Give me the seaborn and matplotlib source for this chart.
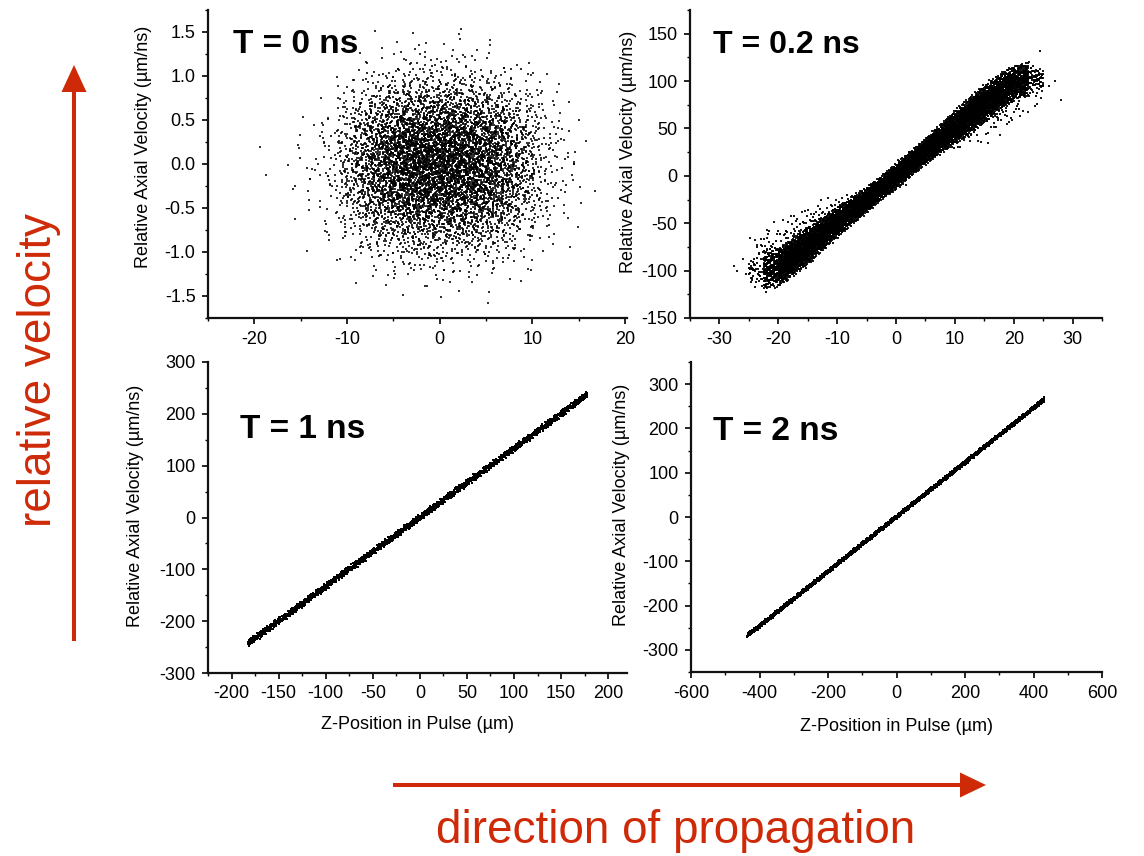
import numpy as np
import pandas as pd
import matplotlib
matplotlib.use("Agg")
import matplotlib.pyplot as plt
from matplotlib.ticker import MultipleLocator
from matplotlib.patches import Polygon
import seaborn as sns

# ---------------- data ----------------
# T = 0 ns : density grid of particles (counts per cell), rows top (y=1.5) -> bottom (y=-1.5)
t0_x_edges = [-20, -17.5, -15, -12.5, -10, -7.5, -5, -2.5, 0, 2.5, 5, 7.5, 10, 12.5, 15, 17.5]
t0_y_edges = [1.5, 1.25, 1.0, 0.75, 0.5, 0.25, 0.0, -0.25, -0.5, -0.75, -1.0, -1.25, -1.5]
t0_counts = [
    [0, 0, 0, 0, 0, 1, 2, 3, 3, 2, 1, 0, 0, 0, 0],
    [0, 0, 0, 0, 3, 6, 10, 14, 12, 9, 6, 3, 1, 0, 0],
    [0, 0, 0, 2, 12, 26, 40, 44, 44, 38, 26, 12, 4, 1, 0],
    [0, 0, 1, 7, 36, 75, 110, 120, 118, 100, 72, 36, 10, 2, 0],
    [0, 1, 3, 14, 66, 140, 200, 220, 215, 190, 135, 66, 18, 4, 1],
    [1, 1, 4, 18, 82, 170, 250, 270, 265, 235, 165, 82, 22, 5, 1],
    [1, 1, 4, 18, 84, 170, 248, 270, 268, 238, 168, 84, 22, 5, 1],
    [0, 1, 3, 14, 64, 138, 200, 215, 212, 192, 138, 68, 18, 4, 1],
    [0, 1, 2, 7, 36, 75, 110, 120, 118, 104, 75, 38, 10, 2, 0],
    [0, 0, 1, 3, 15, 30, 46, 52, 50, 44, 32, 15, 4, 1, 0],
    [0, 0, 0, 1, 4, 8, 13, 15, 14, 12, 8, 4, 1, 0, 0],
    [0, 0, 0, 0, 1, 1, 2, 3, 3, 2, 1, 1, 0, 0, 0],
]

# T = 0.2 ns : dense band (lower / upper edge at each x) and sparse halo
t02_x = [-25, -22.5, -20, -17.5, -15, -12.5, -10, -7.5, -5, -2.5, 0,
         2.5, 5, 7.5, 10, 12.5, 15, 17.5, 20, 22.5, 25]
t02_core_lo = [-108, -112, -108, -97, -85, -71, -58, -45, -33, -20, -8,
               5, 18, 30, 41, 53, 65, 77, 87, 94, 95]
t02_core_hi = [-92, -88, -86, -75, -63, -52, -40, -29, -18, -6, 7,
               20, 33, 47, 61, 74, 87, 98, 108, 112, 108]
t02_core_n = [45, 330, 600, 630, 630, 600, 600, 570, 570, 570,
              570, 570, 570, 600, 600, 630, 630, 600, 450, 90]
t02_halo_lo = [-112, -88, -86, -75, -63, -52, -41, -30, -22, -10, -10,
               2, 14, 25, 30, 36, 42, 50, 60, 75, 80]
t02_halo_hi = [-72, -62, -58, -48, -40, -32, -26, -18, -17, -5, 10,
               22, 34, 48, 42, 54, 66, 78, 88, 100, 104]
t02_halo_n = [15, 25, 30, 30, 25, 15, 8, 3, 3, 3,
              3, 3, 4, 4, 10, 15, 20, 20, 20, 12]
t02_out_x = [-27.5, -27, -26, -25.5, 24, 25, 26, 27, 28, 24.5, 23]
t02_out_y = [-95, -100, -88, -104, 100, 98, 95, 100, 80, 132, 104]

# T = 1 ns : thin straight band
t1_x = [-183, -150, -100, -50, 0, 50, 100, 150, 178]
t1_lo = [-247, -204, -137, -70, -4, 63, 129, 196, 234]
t1_hi = [-239, -196, -129, -62, 4, 71, 137, 204, 242]
t1_n = [180, 260, 260, 260, 260, 260, 260, 180]

# T = 2 ns : thin straight band
t2_x = [-437, -400, -300, -200, -100, 0, 100, 200, 300, 400, 432]
t2_lo = [-271, -249, -188, -126, -64, -3, 59, 120, 182, 243, 263]
t2_hi = [-265, -243, -182, -120, -58, 3, 65, 126, 188, 249, 269]
t2_n = [80, 240, 240, 240, 240, 240, 240, 240, 240, 80]

titles = ["T = 0 ns", "T = 0.2 ns", "T = 1 ns", "T = 2 ns"]
xlabel = "Z-Position in Pulse (\u00b5m)"
ylabel = "Relative Axial Velocity (\u00b5m/ns)"

# ---------------- helpers: deterministic (Halton) placement inside read cells ----------------
_counter = [1]


def _halton(idx, base):
    idx = idx.copy()
    f = np.ones(len(idx))
    r = np.zeros(len(idx))
    while np.any(idx > 0):
        f = f / base
        r = r + f * (idx % base)
        idx = idx // base
    return r


def _seq(n):
    k = np.arange(_counter[0], _counter[0] + n)
    _counter[0] += n
    return _halton(k, 2), _halton(k, 3), _halton(k, 5), _halton(k, 7)


def fill_grid(xe, ye, counts):
    """points spread over each cell with a tent profile reaching into the neighbours"""
    xs, ys = [], []
    for r, row in enumerate(counts):
        for c, n in enumerate(row):
            if n <= 0:
                continue
            a, b, p, q = _seq(n)
            u = a + p - 0.5
            v = b + q - 0.5
            xs.append(xe[c] + u * (xe[c + 1] - xe[c]))
            ys.append(ye[r] + v * (ye[r + 1] - ye[r]))
    return np.concatenate(xs), np.concatenate(ys)


def fill_band(xe, lo, hi, counts):
    xs, ys = [], []
    for i, n in enumerate(counts):
        if n <= 0:
            continue
        a, b, p, q = _seq(n)
        u = a
        v = b + p - 0.5
        x = xe[i] + u * (xe[i + 1] - xe[i])
        l = lo[i] + u * (lo[i + 1] - lo[i])
        h = hi[i] + u * (hi[i + 1] - hi[i])
        xs.append(x)
        ys.append(l + v * (h - l))
    return np.concatenate(xs), np.concatenate(ys)


x0, y0 = fill_grid(t0_x_edges, t0_y_edges, t0_counts)
xa, ya = fill_band(t02_x, t02_core_lo, t02_core_hi, t02_core_n)
xb, yb = fill_band(t02_x, t02_halo_lo, t02_halo_hi, t02_halo_n)
x02 = np.concatenate([xa, xb, t02_out_x])
y02 = np.concatenate([ya, yb, t02_out_y])
x1, y1 = fill_band(t1_x, t1_lo, t1_hi, t1_n)
x2, y2 = fill_band(t2_x, t2_lo, t2_hi, t2_n)

frames = [pd.DataFrame({"z": x0, "v": y0}), pd.DataFrame({"z": x02, "v": y02}),
          pd.DataFrame({"z": x1, "v": y1}), pd.DataFrame({"z": x2, "v": y2})]

# ---------------- figure ----------------
sns.set_style("ticks")
plt.rcParams["font.family"] = ["Liberation Sans", "DejaVu Sans"]
plt.rcParams["axes.unicode_minus"] = False
for key in ("text.color", "axes.labelcolor", "xtick.color", "ytick.color"):
    plt.rcParams[key] = "black"

W, H = 1144, 856
fig = plt.figure(figsize=(W / 100, H / 100), dpi=100)

boxes = [(208, 627, 10, 318), (690, 1102, 10, 318), (208, 627, 362, 673), (691, 1102, 362, 672)]
xlims = [(-25, 20.2), (-35, 35), (-225, 220), (-600, 600)]
ylims = [(-1.75, 1.75), (-150, 175), (-300, 300), (-350, 350)]
xmaj = [10, 10, 50, 200]
xmin = [5, 5, 25, 100]
ymin = [0.25, 25, 50, 50]
yfmt = ["%.1f", "%d", "%d", "%d"]
title_pos = [(0.06, 0.86), (0.056, 0.86), (0.076, 0.756), (0.054, 0.748)]
title_size = [24, 23, 24, 24]
xlab_y = [-0.179, -0.175, -0.167, -0.177]
ylab_pos = [(-0.155, 0.555), (-0.15, 0.539), (-0.174, 0.537), (-0.168, 0.539)]
yticks_list = [np.arange(-1.5, 1.51, 0.5), np.arange(-150, 151, 50),
               np.arange(-300, 301, 100), np.arange(-300, 301, 100)]
msize = [4.2, 3.4, 2.4, 2.4]
malpha = [0.8, 0.9, 1.0, 1.0]

for i, (df, (l, r, t, b)) in enumerate(zip(frames, boxes)):
    ax = fig.add_axes([l / W, (H - b) / H, (r - l) / W, (b - t) / H])
    sns.scatterplot(data=df, x="z", y="v", ax=ax, s=msize[i], color="black",
                    alpha=malpha[i], marker="s", linewidth=0, legend=False)
    ax.set_xlim(*xlims[i])
    ax.set_ylim(*ylims[i])
    ax.xaxis.set_major_locator(MultipleLocator(xmaj[i]))
    ax.xaxis.set_minor_locator(MultipleLocator(xmin[i]))
    ax.set_yticks(yticks_list[i])
    ax.set_yticklabels([yfmt[i] % v for v in yticks_list[i]])
    ax.yaxis.set_minor_locator(MultipleLocator(ymin[i]))
    sns.despine(ax=ax)
    for s in ("left", "bottom"):
        ax.spines[s].set_linewidth(1.6)
        ax.spines[s].set_color("#111111")
    ax.tick_params(which="major", direction="out", length=4, width=1.2,
                   labelsize=13, pad=5, colors="black")
    ax.tick_params(which="minor", direction="out", length=2.5, width=1.0, colors="black")
    ax.set_xlabel(xlabel, fontsize=13)
    ax.set_ylabel(ylabel, fontsize=13)
    ax.xaxis.set_label_coords(0.5, xlab_y[i])
    ax.xaxis.label.set_va("center")
    ax.yaxis.set_label_coords(*ylab_pos[i])
    ax.yaxis.label.set_va("center")
    ax.text(title_pos[i][0], title_pos[i][1], titles[i], transform=ax.transAxes,
            fontsize=title_size[i], fontweight="bold", ha="left", va="baseline",
            color="black")

# ---------------- red annotation arrows ----------------
RED = "#CF2A08"
ov = fig.add_axes([0, 0, 1, 1], zorder=5)
ov.set_xlim(0, W)
ov.set_ylim(H, 0)
ov.axis("off")
ov.patch.set_alpha(0)
ov.plot([74, 74], [641, 90], color=RED, lw=2.9, solid_capstyle="butt")
ov.add_patch(Polygon([(61.5, 92), (86.5, 92), (74, 65)], closed=True, color=RED, lw=0))
ov.plot([393, 962], [785, 785], color=RED, lw=2.9, solid_capstyle="butt")
ov.add_patch(Polygon([(960, 772.5), (960, 797.5), (986, 785)], closed=True, color=RED, lw=0))
ov.text(51, 370, "relative velocity", rotation=90, rotation_mode="anchor",
        ha="center", va="baseline", fontsize=33, color=RED)
ov.text(676, 843, "direction of propagation", ha="center", va="baseline",
        fontsize=33, color=RED)

fig.savefig("out.png", dpi=100)
